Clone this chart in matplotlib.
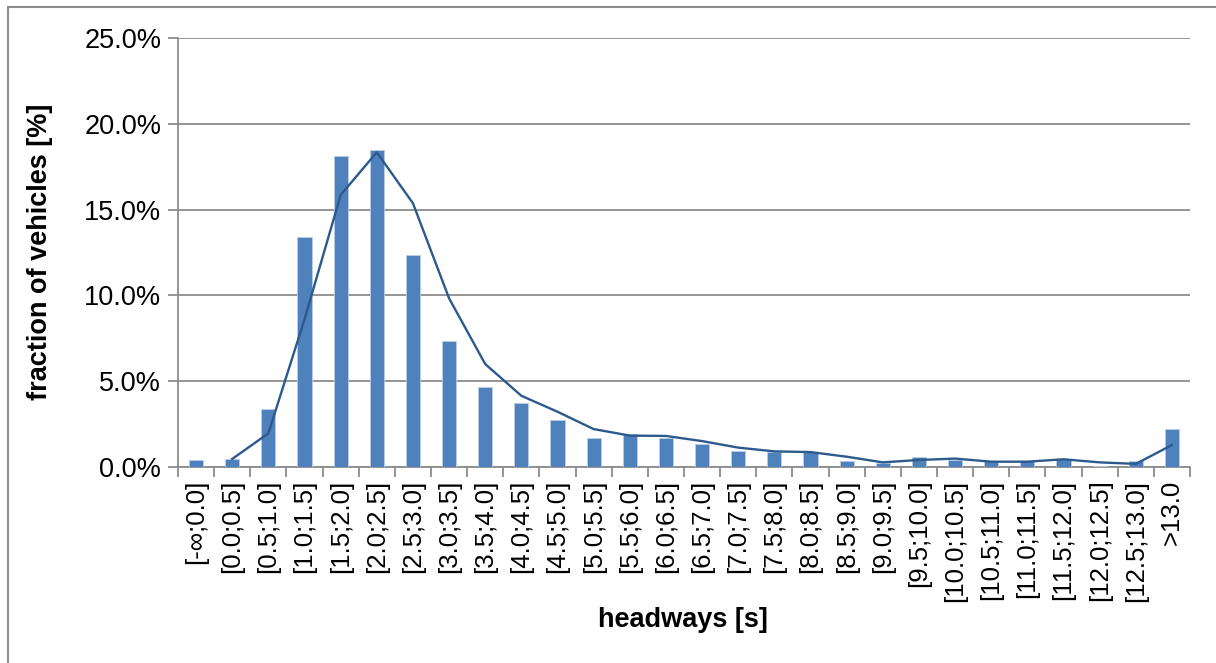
import matplotlib
matplotlib.use("Agg")
import matplotlib.pyplot as plt
from matplotlib.patches import Rectangle
from matplotlib.ticker import FuncFormatter, MultipleLocator
import numpy as np

plt.rcParams['font.family'] = ['Liberation Sans', 'DejaVu Sans']

categories = ["[-∞;0.0]", "[0.0;0.5]", "[0.5;1.0]", "[1.0;1.5]", "[1.5;2.0]",
              "[2.0;2.5]", "[2.5;3.0]", "[3.0;3.5]", "[3.5;4.0]", "[4.0;4.5]",
              "[4.5;5.0]", "[5.0;5.5]", "[5.5;6.0]", "[6.0;6.5]", "[6.5;7.0]",
              "[7.0;7.5]", "[7.5;8.0]", "[8.0;8.5]", "[8.5;9.0]", "[9.0;9.5]",
              "[9.5;10.0]", "[10.0;10.5]", "[10.5;11.0]", "[11.0;11.5]",
              "[11.5;12.0]", "[12.0;12.5]", "[12.5;13.0]", ">13.0"]

bar_values = [0.41, 0.47, 3.38, 13.38, 18.14, 18.45, 12.33, 7.34, 4.66, 3.71,
              2.72, 1.67, 1.90, 1.71, 1.32, 0.93, 0.89, 0.89, 0.34, 0.22,
              0.58, 0.42, 0.33, 0.33, 0.47, 0.08, 0.35, 2.20]

# line starts at the second category
line_values = [0.47, 1.96, 8.6, 15.85, 18.34, 15.37, 9.83, 6.0, 4.15, 3.22,
               2.21, 1.83, 1.81, 1.51, 1.13, 0.91, 0.87, 0.60, 0.27, 0.41,
               0.49, 0.31, 0.31, 0.45, 0.27, 0.18, 1.28]

W, H = 1216, 663
fig = plt.figure(figsize=(W / 100, H / 100), dpi=100)
fig.patch.set_facecolor("white")

# outer chart border (cropped on right and bottom)
fig.add_artist(Rectangle((7.5 / W, -0.05), 1.2, 1 - 7.5 / H + 0.05,
                         transform=fig.transFigure, fill=False,
                         edgecolor="#8c8c8c", linewidth=1.5))

left, right, top, bottom = 178, 1190, 38, 467
ax = fig.add_axes([left / W, 1 - bottom / H, (right - left) / W, (bottom - top) / H])

x = np.arange(len(categories))
ax.bar(x, bar_values, width=0.39, color="#4F81BD", edgecolor="#B9CDE5",
       linewidth=0.6, zorder=3)
ax.plot(x[1:], line_values, color="#2C5A8C", linewidth=1.7, zorder=4)

ax.set_xlim(-0.5, len(categories) - 0.5)
ax.set_ylim(0, 25)
ax.yaxis.set_major_locator(MultipleLocator(5))
ax.yaxis.set_major_formatter(FuncFormatter(lambda v, p: f"{v:.1f}%"))
ax.grid(axis="y", color="#8c8c8c", linewidth=1.3, zorder=0)
ax.set_axisbelow(True)

ax.set_xticks(x)
ax.set_xticklabels(categories, rotation=90, fontsize=18.5)
ax.set_xticks(np.arange(len(categories) + 1) - 0.5, minor=True)
ax.tick_params(axis="x", which="major", length=0, pad=9, colors="black")
ax.tick_params(axis="x", which="minor", length=7, width=1.3, color="#8c8c8c")
ax.tick_params(axis="y", length=7, width=1.3, color="#8c8c8c", labelsize=19.5, pad=5)

for s in ["top", "right"]:
    ax.spines[s].set_visible(False)
for s in ["left", "bottom"]:
    ax.spines[s].set_color("#8c8c8c")
    ax.spines[s].set_linewidth(1.3)

fig.text(683 / W, 1 - 620 / H, "headways [s]", ha="center", va="center",
         fontsize=19.5, fontweight="bold")
fig.text(40 / W, 1 - 252 / H, "fraction of vehicles [%]", ha="center", va="center",
         rotation=90, fontsize=19.5, fontweight="bold")

fig.savefig("out.png", dpi=100)
